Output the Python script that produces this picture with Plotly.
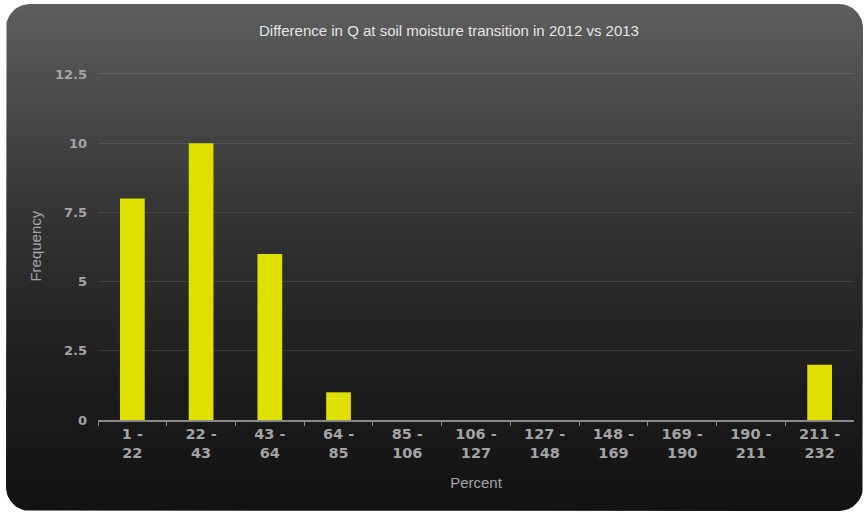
import numpy as np
import plotly.graph_objects as go

categories = ["1 -<br>22", "22 -<br>43", "43 -<br>64", "64 -<br>85", "85 -<br>106",
              "106 -<br>127", "127 -<br>148", "148 -<br>169", "169 -<br>190",
              "190 -<br>211", "211 -<br>232"]
frequency = [8, 10, 6, 1, 0, 0, 0, 0, 0, 0, 2]
y_ticks = [0, 2.5, 5, 7.5, 10, 12.5]
y_tick_labels = ["0", "2.5", "5", "7.5", "10", "12.5"]

W, H = 867, 516

# rounded background panel (pixel coords on a hidden axis)
x0, x1, y0, y1, r = 6, 863, 4, 511, 24
px, py = [], []
def arc(cx, cy, a0, a1):
    for t in np.linspace(a0, a1, 16):
        px.append(cx + r * np.cos(t))
        py.append(cy + r * np.sin(t))
arc(x1 - r, y0 + r, -np.pi / 2, 0)
arc(x1 - r, y1 - r, 0, np.pi / 2)
arc(x0 + r, y1 - r, np.pi / 2, np.pi)
arc(x0 + r, y0 + r, np.pi, 1.5 * np.pi)
px.append(px[0]); py.append(py[0])

fig = go.Figure()
fig.add_trace(go.Scatter(
    x=px, y=py, mode="lines", fill="toself", line=dict(width=0),
    fillgradient=dict(type="vertical", start=y1, stop=y0,
                      colorscale=[[0, "#121212"], [0.25, "#1c1c1c"],
                                  [0.6, "#353535"], [1, "#5e5e5e"]]),
    hoverinfo="skip", showlegend=False, xaxis="x", yaxis="y"))

fig.add_trace(go.Bar(
    x=categories, y=frequency, marker=dict(color="#dfe000", line=dict(width=0)),
    showlegend=False, xaxis="x2", yaxis="y2"))

ytop = 12.56
px_per = (420 - 74) / 12.5
top_px = 420 - ytop * px_per

fig.update_layout(
    width=W, height=H, margin=dict(l=0, r=0, t=0, b=0, autoexpand=False),
    paper_bgcolor="white", plot_bgcolor="rgba(0,0,0,0)",
    bargap=0.64,
    xaxis=dict(domain=[0, 1], range=[0, W], visible=False, fixedrange=True, automargin=False),
    yaxis=dict(domain=[0, 1], range=[H, 0], visible=False, fixedrange=True, automargin=False),
    xaxis2=dict(domain=[98 / W, 854 / W], anchor="y2", showgrid=False, automargin=False,
                showline=True, linecolor="#8a8a8a", linewidth=1.5,
                ticks="outside", tickson="boundaries", ticklen=4, tickcolor="#8a8a8a",
                tickfont=dict(family="DejaVu Sans", size=14.5, color="#a4a4a4", weight="bold"),
                title=dict(text="Percent", font=dict(family="Liberation Sans", size=15, color="#a4a4a4"),
                           standoff=17),
                zeroline=False),
    yaxis2=dict(domain=[(H - 420) / H, (H - top_px) / H], anchor="x2", range=[0, ytop],
                automargin=False,
                tickvals=y_ticks, ticktext=y_tick_labels,
                showgrid=True, gridcolor="rgba(255,255,255,0.10)", gridwidth=1,
                zeroline=False, showline=False, ticks="", ticklabelstandoff=10,
                tickfont=dict(family="DejaVu Sans", size=13, color="#a4a4a4", weight="bold"),
                title=dict(text="Frequency", font=dict(family="Liberation Sans", size=15, color="#a4a4a4"),
                           standoff=9)),
    title=dict(text="Difference in Q at soil moisture transition in 2012 vs 2013",
               x=449 / W, xanchor="center", y=1 - 31 / H, yanchor="middle",
               font=dict(family="Liberation Sans", size=15, color="#e6e6e6")),
)

fig.write_html("out.html")
